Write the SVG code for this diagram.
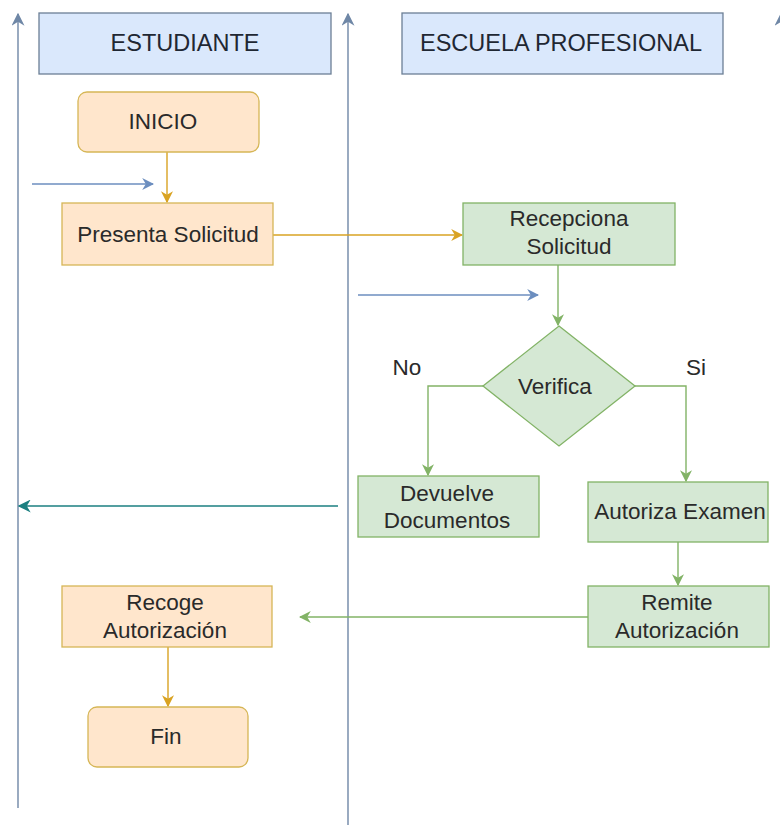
<svg xmlns="http://www.w3.org/2000/svg" width="780" height="825" viewBox="0 0 780 825">
<defs>
<marker id="mBlue" viewBox="0 0 10 10" refX="9" refY="5" markerWidth="12" markerHeight="12" markerUnits="userSpaceOnUse" orient="auto"><path d="M0,0 L10,5 L0,10 L3,5 Z" fill="#6c8ebf"/></marker>
<marker id="mLane" viewBox="0 0 10 10" refX="9" refY="5" markerWidth="13" markerHeight="13" markerUnits="userSpaceOnUse" orient="auto"><path d="M0,0 L10,5 L0,10 L3,5 Z" fill="#6f87a6"/></marker>
<marker id="mOrange" viewBox="0 0 10 10" refX="9" refY="5" markerWidth="12" markerHeight="12" markerUnits="userSpaceOnUse" orient="auto"><path d="M0,0 L10,5 L0,10 L3,5 Z" fill="#d9a323"/></marker>
<marker id="mGreen" viewBox="0 0 10 10" refX="9" refY="5" markerWidth="12" markerHeight="12" markerUnits="userSpaceOnUse" orient="auto"><path d="M0,0 L10,5 L0,10 L3,5 Z" fill="#82b366"/></marker>
<marker id="mTeal" viewBox="0 0 10 10" refX="9" refY="5" markerWidth="13" markerHeight="13" markerUnits="userSpaceOnUse" orient="auto"><path d="M0,0 L10,5 L0,10 L3,5 Z" fill="#1b7f80"/></marker>
</defs>
<style>
text{font-family:"Liberation Sans",Arial,sans-serif;fill:#2a2a2a;text-anchor:middle;dominant-baseline:central;font-size:22.5px}
.h{font-size:23.5px;fill:#1f2733}
.hdr{fill:#dae8fc;stroke:#6c7f96;stroke-width:1.3}
.or{fill:#ffe6cc;stroke:#d6b656;stroke-width:1.3}
.gr{fill:#d5e8d4;stroke:#82b366;stroke-width:1.3}
.lane{stroke:#6f87a6;stroke-width:1.4;fill:none}
.cB{stroke:#6c8ebf;stroke-width:1.4;fill:none}
.cO{stroke:#d9a323;stroke-width:1.4;fill:none}
.cG{stroke:#82b366;stroke-width:1.4;fill:none}
.cT{stroke:#1b7f80;stroke-width:1.4;fill:none}
</style>
<rect width="780" height="825" fill="#ffffff"/>
<g id="lanes">
<line class="lane" x1="18" y1="808" x2="18" y2="14" marker-end="url(#mLane)"/>
<line class="lane" x1="348" y1="825" x2="348" y2="14" marker-end="url(#mLane)"/>
<line class="lane" x1="781" y1="825" x2="781" y2="14" marker-end="url(#mLane)"/>
</g>
<g id="connectors">
<line class="cO" x1="167" y1="152" x2="167" y2="202" marker-end="url(#mOrange)"/>
<line class="cB" x1="32" y1="184" x2="153" y2="184" marker-end="url(#mBlue)"/>
<line class="cO" x1="273" y1="235" x2="462" y2="235" marker-end="url(#mOrange)"/>
<line class="cG" x1="558" y1="265" x2="558" y2="325" marker-end="url(#mGreen)"/>
<line class="cB" x1="358" y1="295" x2="538" y2="295" marker-end="url(#mBlue)"/>
<polyline class="cG" points="484,386 428,386 428,475" marker-end="url(#mGreen)"/>
<polyline class="cG" points="634,386 686,386 686,481" marker-end="url(#mGreen)"/>
<line class="cG" x1="678" y1="542" x2="678" y2="585" marker-end="url(#mGreen)"/>
<line class="cG" x1="588" y1="617" x2="300" y2="617" marker-end="url(#mGreen)"/>
<line class="cT" x1="338" y1="506" x2="19" y2="506" marker-end="url(#mTeal)"/>
<line class="cO" x1="168" y1="647" x2="168" y2="706" marker-end="url(#mOrange)"/>
</g>
<g id="estudiante"><rect class="hdr" x="39" y="13" width="292" height="61"/><text class="h" x="185" y="43">ESTUDIANTE</text></g>
<g id="escuela"><rect class="hdr" x="402" y="13" width="321" height="61"/><text class="h" x="561" y="43">ESCUELA PROFESIONAL</text></g>
<g id="inicio"><rect class="or" x="78" y="92" width="181" height="60" rx="9"/><text x="163" y="121">INICIO</text></g>
<g id="presenta"><rect class="or" x="62" y="203" width="211" height="62"/><text x="168" y="234">Presenta Solicitud</text></g>
<g id="recepciona"><rect class="gr" x="463" y="203" width="212" height="62"/><text x="569" y="218">Recepciona</text><text x="569" y="246">Solicitud</text></g>
<g id="verifica"><polygon class="gr" points="559,326 635,386 559,446 483,386"/><text x="555" y="386" font-size="17">Verifica</text></g>
<g id="labelNo"><text x="407" y="367">No</text></g>
<g id="labelSi"><text x="696" y="367">Si</text></g>
<g id="devuelve"><rect class="gr" x="358" y="476" width="181" height="61"/><text x="447" y="493">Devuelve</text><text x="447" y="520">Documentos</text></g>
<g id="autoriza"><rect class="gr" x="588" y="482" width="180" height="60"/><text x="680" y="511">Autoriza Examen</text></g>
<g id="remite"><rect class="gr" x="588" y="586" width="181" height="61"/><text x="677" y="602">Remite</text><text x="677" y="630">Autorización</text></g>
<g id="recoge"><rect class="or" x="62" y="586" width="210" height="61"/><text x="165" y="602">Recoge</text><text x="165" y="630">Autorización</text></g>
<g id="fin"><rect class="or" x="88" y="707" width="160" height="60" rx="9"/><text x="166" y="736">Fin</text></g>
</svg>
